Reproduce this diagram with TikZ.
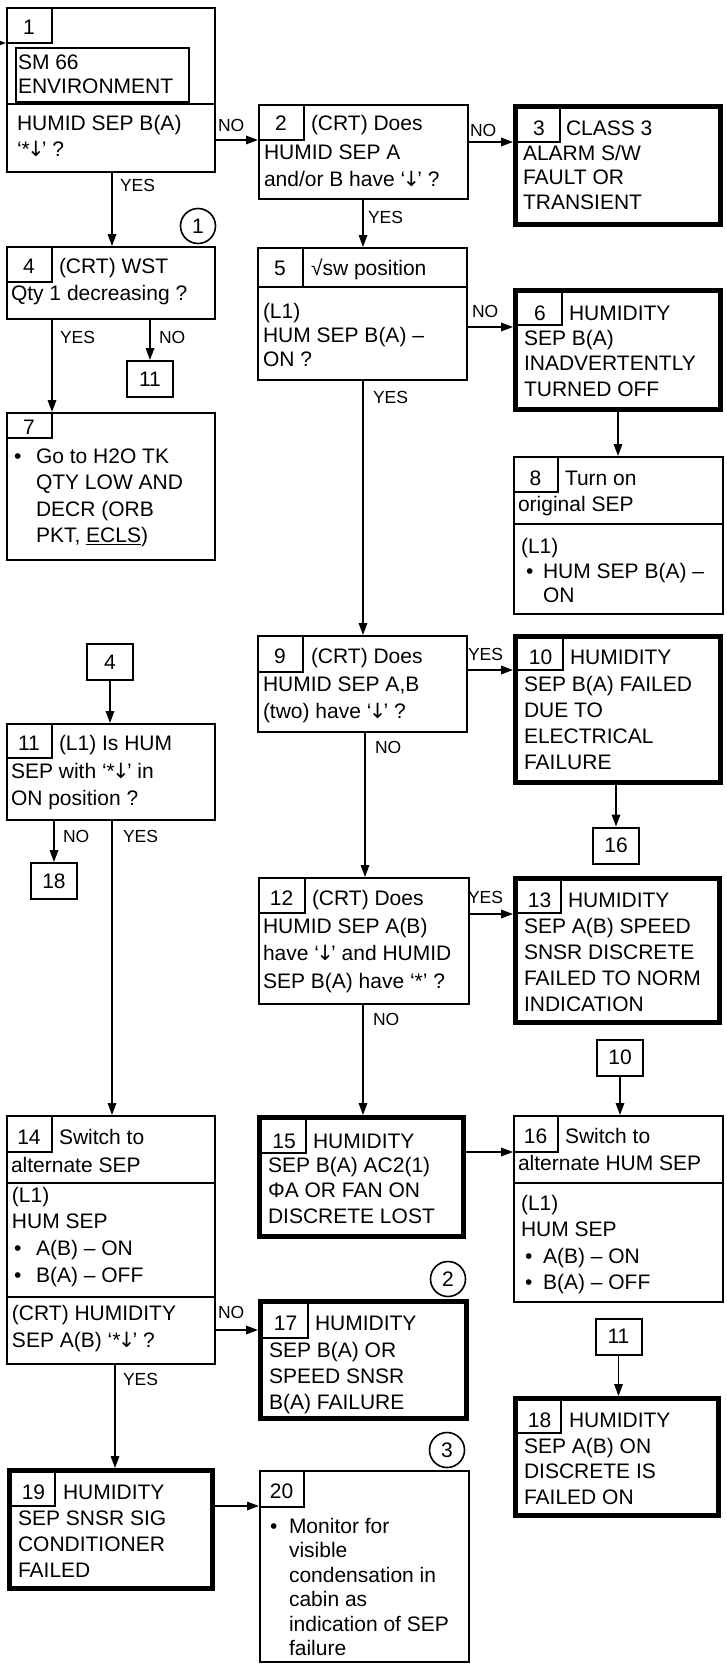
\documentclass[tikz,border=0pt]{standalone}
\usepackage{fontspec}
\setmainfont{Liberation Sans}
\newfontfamily\dvs{DejaVu Sans}
\usetikzlibrary{arrows.meta}
\newcommand\fstr{\rule{0pt}{20pt}}
\newcommand\dar{\kern-0.13em{\dvs ↓}\kern-0.13em}
\tikzset{
  box/.style={draw, line width=2pt, anchor=north west, inner sep=0pt},
  tbox/.style={draw, line width=5pt, anchor=north west, inner sep=0pt},
  ibox/.style={draw, line width=1.8pt, anchor=north west, inner sep=0pt},
  sbox/.style={draw, line width=2pt, minimum width=46pt, minimum height=36pt, inner sep=0pt, font=\fontsize{21}{25}\selectfont},
  cl/.style={line width=1.3pt},
  dv/.style={line width=2pt},
  arr/.style={line width=1.7pt, -{Triangle[length=12pt,width=8.5pt]}},
  lab/.style={anchor=base west, inner sep=0pt, outer sep=0pt, font=\fontsize{17.5}{20}\selectfont},
  ln/.style={anchor=base west, inner sep=0pt, outer sep=0pt, font=\fontsize{21}{26}\selectfont},
  num/.style={anchor=base, inner sep=0pt, outer sep=0pt, font=\fontsize{21}{26}\selectfont},
  txt/.style={anchor=north west, inner sep=0pt, outer sep=0pt, align=left, font=\fontsize{21}{#1}\selectfont},
  txt/.default=26.5,
  circ/.style={draw, circle, line width=1.6pt, minimum size=35pt, inner sep=0pt, font=\fontsize{21}{25}\selectfont},
  bul/.style={anchor=base west, inner sep=0pt, outer sep=0pt, font=\fontsize{21}{26}\selectfont},
}
\begin{document}
\begin{tikzpicture}[x=1pt,y=-1pt]
\fill[white] (0,0) rectangle (727,1664);
\useasboundingbox (0,0) rectangle (727,1664);

% ---------- Box 1
\node[box, minimum width=208pt, minimum height=164pt] (b1) at (6,7) {};
\draw[cl] (6,43) -| (52,7);
\node[num] (n1) at (29,35) {1};
\node[ibox, minimum width=173pt, minimum height=54pt] (ib1) at (15,47) {};
\node[txt=24] (t1a) at (18,50) {\fstr SM 66\\ENVIRONMENT};
\draw[dv] (b1.west |- 0,104) -- (b1.east |- 0,104);
\node[txt=26] (t1b) at (17,111) {\fstr HUMID SEP B(A)\\‘*\dar’ ?};

% ---------- Box 2
\node[box, minimum width=209pt, minimum height=94pt] (b2) at (258,104) {};
\draw[cl] (258,140) -| (304,104);
\node[num] (n2) at (281,131) {2};
\node[ln] (t2a) at (311,131) {(CRT) Does};
\node[txt=27] (t2b) at (264,139) {\fstr HUMID SEP A\\and/or B have ‘\dar’ ?};

% ---------- Box 3
\node[tbox, minimum width=205pt, minimum height=118pt] (b3) at (513,104) {};
\draw[cl] (515.5,142) -| (560,106.5);
\node[num] (n3) at (539,136) {3};
\node[ln] (t3a) at (566,136) {CLASS 3};
\node[txt=25] (t3b) at (523,140) {\fstr ALARM S/W\\FAULT OR\\TRANSIENT};

% ---------- Box 4
\node[box, minimum width=208pt, minimum height=72pt] (b4) at (6,246) {};
\draw[cl] (6,282) -| (52,246);
\node[num] (n4) at (29,273) {4};
\node[ln] (t4a) at (59,273) {(CRT) WST};
\node[ln] (t4b) at (11,300) {Qty 1 decreasing ?};

% ---------- Box 5
\node[box, minimum width=209pt, minimum height=132pt] (b5) at (257,247) {};
\draw[dv] (b5.west |- 0,287) -- (b5.east |- 0,287);
\draw[cl] (303,287) -- (303,247);
\node[num] (n5) at (280,275) {5};
\node[ln] (t5a) at (311,275) {√sw position};
\node[txt=24] (t5b) at (263,298) {\fstr (L1)\\HUM SEP B(A) –\\ON ?};

% ---------- Box 6
\node[tbox, minimum width=205pt, minimum height=119pt] (b6) at (513,288) {};
\draw[cl] (515.5,325) -| (562,290.5);
\node[num] (n6) at (540,320) {6};
\node[ln] (t6a) at (569,320) {HUMIDITY};
\node[txt=25.5] (t6b) at (524,325) {\fstr SEP B(A)\\INADVERTENTLY\\TURNED OFF};

% ---------- Box 7
\node[box, minimum width=208pt, minimum height=147pt] (b7) at (6,412) {};
\draw[cl] (6,438) -| (52,412);
\node[num] (n7) at (29,434) {7};
\node[bul] (u7) at (14,463) {•};
\node[txt=26.5] (t7) at (36,443) {\fstr Go to H2O TK\\QTY LOW AND\\DECR (ORB\\PKT, \underline{ECLS})};

\node[sbox] (s11l) at (150,379) {11};

% ---------- Box 8
\node[box, minimum width=209pt, minimum height=157pt] (b8) at (513,456) {};
\draw[cl] (513,492) -| (558,456);
\draw[dv] (b8.west |- 0,524) -- (b8.east |- 0,524);
\node[num] (n8) at (535.5,485) {8};
\node[ln] (t8a) at (565,485) {Turn on};
\node[ln] (t8b) at (518,511) {original SEP};
\node[ln] (t8c) at (521,553) {(L1)};
\node[bul] (u8) at (526,578) {•};
\node[txt=24.5] (t8d) at (543,558) {\fstr HUM SEP B(A) –\\ON};

\node[sbox] (s4) at (110,662) {4};

% ---------- Box 11
\node[box, minimum width=208pt, minimum height=96pt] (b11) at (6,723) {};
\draw[cl] (6,758) -| (52,723);
\node[num] (n11) at (29,750) {11};
\node[ln] (t11a) at (59,750) {(L1) Is HUM};
\node[txt=27] (t11b) at (11,758) {\fstr SEP with ‘*\dar’ in\\ON position ?};

\node[sbox] (s18) at (54,881) {18};

% ---------- Box 9
\node[box, minimum width=209pt, minimum height=96pt] (b9) at (257,635) {};
\draw[cl] (257,672) -| (303,635);
\node[num] (n9) at (280,663) {9};
\node[ln] (t9a) at (311,663) {(CRT) Does};
\node[txt=27] (t9b) at (263,671) {\fstr HUMID SEP A,B\\(two) have ‘\dar’ ?};

% ---------- Box 10
\node[tbox, minimum width=205pt, minimum height=146pt] (b10) at (513,634) {};
\draw[cl] (515.5,670) -| (563,636.5);
\node[num] (n10) at (540.5,664) {10};
\node[ln] (t10a) at (570,664) {HUMIDITY};
\node[txt=26] (t10b) at (524,671) {\fstr SEP B(A) FAILED\\DUE TO\\ELECTRICAL\\FAILURE};

\node[sbox] (s16) at (616,845.5) {16};

% ---------- Box 12
\node[box, minimum width=210pt, minimum height=126pt] (b12) at (258,877) {};
\draw[cl] (258,913) -| (305,877);
\node[num] (n12) at (281.5,905) {12};
\node[ln] (t12a) at (312,905) {(CRT) Does};
\node[txt=27.5] (t12b) at (263,913) {\fstr HUMID SEP A(B)\\have ‘\dar’ and HUMID\\SEP B(A) have ‘*’ ?};

% ---------- Box 13
\node[tbox, minimum width=204pt, minimum height=144pt] (b13) at (513,876) {};
\draw[cl] (515.5,913) -| (561,878.5);
\node[num] (n13) at (539.5,907) {13};
\node[ln] (t13a) at (568,907) {HUMIDITY};
\node[txt=26] (t13b) at (524,913) {\fstr SEP A(B) SPEED\\SNSR DISCRETE\\FAILED TO NORM\\INDICATION};

\node[sbox] (s10) at (620,1057.5) {10};

% ---------- Box 15
\node[tbox, minimum width=204pt, minimum height=119pt] (b15) at (257,1115) {};
\draw[cl] (259.5,1153) -| (306,1117.5);
\node[num] (n15) at (284,1148) {15};
\node[ln] (t15a) at (313,1148) {HUMIDITY};
\node[txt=25.5] (t15b) at (268,1152) {\fstr SEP B(A) AC2(1)\\ΦA OR FAN ON\\DISCRETE LOST};

% ---------- Box 16
\node[box, minimum width=209pt, minimum height=186pt] (b16) at (513,1115) {};
\draw[cl] (513,1152) -| (558,1115);
\draw[dv] (b16.west |- 0,1183) -- (b16.east |- 0,1183);
\node[num] (n16) at (535.5,1143) {16};
\node[ln] (t16a) at (565,1143) {Switch to};
\node[ln] (t16b) at (518,1170) {alternate HUM SEP};
\node[txt=26.5] (t16c) at (521,1190) {\fstr (L1)\\HUM SEP};
\node[bul] (u16a) at (525,1263) {•};
\node[bul] (u16b) at (525,1289) {•};
\node[txt=26] (t16d) at (543,1243) {\fstr A(B) – ON\\B(A) – OFF};

\node[circ] (c2) at (448,1279) {2};

% ---------- Box 14
\node[box, minimum width=208pt, minimum height=248pt] (b14) at (6,1115) {};
\draw[cl] (6,1152) -| (52,1115);
\draw[dv] (b14.west |- 0,1183) -- (b14.east |- 0,1183);
\draw[dv] (b14.west |- 0,1297) -- (b14.east |- 0,1297);
\node[num] (n14) at (29,1144) {14};
\node[ln] (t14a) at (59,1144) {Switch to};
\node[ln] (t14b) at (11,1172) {alternate SEP};
\node[txt=26.5] (t14c) at (12,1182) {\fstr (L1)\\HUM SEP};
\node[bul] (u14a) at (14,1255) {•};
\node[bul] (u14b) at (14,1282) {•};
\node[txt=27] (t14d) at (36,1235) {\fstr A(B) – ON\\B(A) – OFF};
\node[txt=27] (t14e) at (12,1300) {\fstr (CRT) HUMIDITY\\SEP A(B) ‘*\dar’ ?};

% ---------- Box 17
\node[tbox, minimum width=206pt, minimum height=117pt] (b17) at (258,1299) {};
\draw[cl] (260.5,1338) -| (308,1301.5);
\node[num] (n17) at (285.5,1330) {17};
\node[ln] (t17a) at (315,1330) {HUMIDITY};
\node[txt=26.3] (t17b) at (269,1337) {\fstr SEP B(A) OR\\SPEED SNSR\\B(A) FAILURE};

\node[sbox] (s11r) at (618.5,1336.5) {11};

% ---------- Box 18
\node[tbox, minimum width=203pt, minimum height=117pt] (b18) at (513,1396) {};
\draw[cl] (515.5,1433) -| (561,1398.5);
\node[num] (n18) at (539.5,1427) {18};
\node[ln] (t18a) at (569,1427) {HUMIDITY};
\node[txt=25.5] (t18b) at (524,1433) {\fstr SEP A(B) ON\\DISCRETE IS\\FAILED ON};

% ---------- Box 19
\node[tbox, minimum width=203pt, minimum height=118pt] (b19) at (7,1468) {};
\draw[cl] (9.5,1506) -| (55,1470.5);
\node[num] (n19) at (33.5,1499) {19};
\node[ln] (t19a) at (63,1499) {HUMIDITY};
\node[txt=26] (t19b) at (18,1505) {\fstr SEP SNSR SIG\\CONDITIONER\\FAILED};

% ---------- Box 20
\node[box, minimum width=209pt, minimum height=191pt] (b20) at (259,1470) {};
\draw[cl] (259,1507) -| (304,1470);
\node[num] (n20) at (281.5,1498) {20};
\node[bul] (u20) at (270,1533) {•};
\node[txt=24.5] (t20) at (289,1513) {\fstr Monitor for\\visible\\condensation in\\cabin as\\indication of SEP\\failure};

% ---------- circles
\node[circ] (c1) at (198,226) {1};
\node[circ] (c3) at (447,1450) {3};

% ---------- connectors
\coordinate (in0) at (0,43);
\draw[arr] (in0) -- (b1.west |- in0);
\draw[arr] (b1.east |- 0,140) -- (b2.west |- 0,140);
\node[lab] (l1) at (218,132) {NO};
\draw[arr] (b2.east |- 0,142) -- (b3.west |- 0,142);
\node[lab] (l2) at (470,137) {NO};
\draw[arr] (b1.south -| 112,0) -- (b4.north -| 112,0);
\node[lab] (l3) at (120,192) {YES};
\draw[arr] (b2.south -| 363,0) -- (b5.north -| 363,0);
\node[lab] (l4) at (368,223) {YES};
\draw[arr] (b4.south -| 52,0) -- (b7.north -| 52,0);
\node[lab] (l5) at (60,343) {YES};
\draw[arr] (b4.south -| s11l.north) -- (s11l.north);
\node[lab] (l6) at (159,343) {NO};
\draw[arr] (b5.east |- 0,327) -- (b6.west |- 0,327);
\node[lab] (l7) at (472,317) {NO};
\draw[arr] (b5.south -| 363,0) -- (b9.north -| 363,0);
\node[lab] (l8) at (373,403) {YES};
\draw[arr] (b6.south -| 618,0) -- (b8.north -| 618,0);
\draw[arr] (s4.south) -- (b11.north -| s4.south);
\draw[arr] (b9.east |- 0,670) -- (b10.west |- 0,670);
\node[lab] (l9) at (468,660) {YES};
\draw[arr] (b9.south -| 365,0) -- (b12.north -| 365,0);
\node[lab] (l10) at (375,753) {NO};
\draw[arr] (b10.south -| s16.north) -- (s16.north);
\draw[arr] (b11.south -| s18.north) -- (s18.north);
\node[lab] (l11) at (63,842) {NO};
\draw[arr] (b11.south -| 112,0) -- (b14.north -| 112,0);
\node[lab] (l12) at (123,842) {YES};
\draw[arr] (b12.east |- 0,914) -- (b13.west |- 0,914);
\node[lab] (l13) at (468,903) {YES};
\draw[arr] (b12.south -| 363,0) -- (b15.north -| 363,0);
\node[lab] (l14) at (373,1025) {NO};
\draw[arr] (s10.south) -- (b16.north -| s10.south);
\draw[arr] (b15.east |- 0,1152) -- (b16.west |- 0,1152);
\draw[arr] (b14.east |- 0,1330) -- (b17.west |- 0,1330);
\node[lab] (l15) at (218,1318) {NO};
\draw[arr] (b14.south -| 115,0) -- (b19.north -| 115,0);
\node[lab] (l16) at (123,1385) {YES};
\draw[arr] (s11r.south) -- (b18.north -| s11r.south);
\draw[arr] (b19.east |- 0,1506) -- (b20.west |- 0,1506);
\end{tikzpicture}
\end{document}
